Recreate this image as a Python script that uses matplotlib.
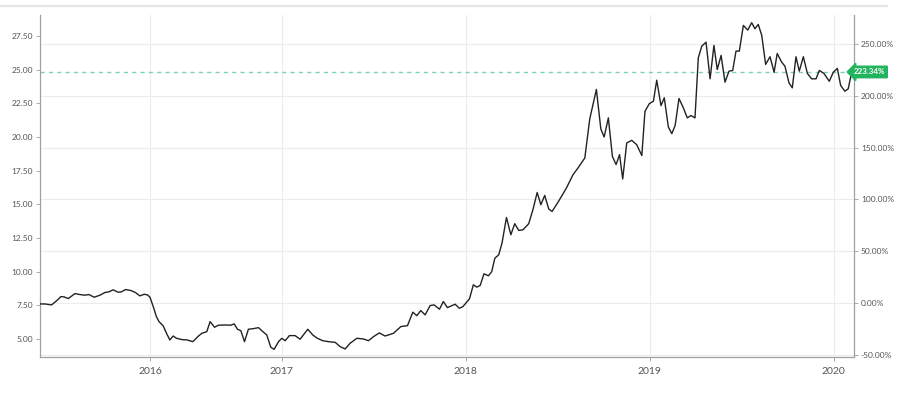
import matplotlib.pyplot as plt
from matplotlib.transforms import blended_transform_factory

# 数据：位置（年份小数）和价格
dates = [2015.685, 2015.712, 2015.748, 2015.775, 2015.799, 2015.817, 2015.839, 2015.875,
         2015.902, 2015.929, 2015.951, 2015.980, 2016.011, 2016.038, 2016.060, 2016.083,
         2016.110, 2016.128, 2016.150, 2016.179, 2016.204, 2016.228, 2016.252, 2016.270,
         2016.283, 2016.301, 2016.318, 2016.332, 2016.355, 2016.373, 2016.391, 2016.409,
         2016.427, 2016.458, 2016.484, 2016.516, 2016.547, 2016.565, 2016.592, 2016.610,
         2016.634, 2016.655, 2016.692, 2016.723, 2016.741, 2016.759, 2016.777, 2016.797,
         2016.818, 2016.846, 2016.873, 2016.897, 2016.918, 2016.940, 2016.958, 2016.982,
         2017.000, 2017.018, 2017.041, 2017.072, 2017.099, 2017.141, 2017.168, 2017.193,
         2017.223, 2017.253, 2017.290, 2017.317, 2017.344, 2017.371, 2017.408, 2017.443,
         2017.471, 2017.498, 2017.530, 2017.561, 2017.607, 2017.647, 2017.683, 2017.712,
         2017.734, 2017.755, 2017.779, 2017.806, 2017.828, 2017.857, 2017.878, 2017.900,
         2017.942, 2017.965, 2017.984, 2018.020, 2018.041, 2018.060, 2018.078, 2018.099,
         2018.123, 2018.141, 2018.158, 2018.179, 2018.197, 2018.221, 2018.245, 2018.266,
         2018.288, 2018.311, 2018.342, 2018.366, 2018.388, 2018.408, 2018.429, 2018.451,
         2018.469, 2018.502, 2018.547, 2018.583, 2018.610, 2018.647, 2018.674, 2018.710,
         2018.734, 2018.752, 2018.775, 2018.797, 2018.817, 2018.836, 2018.853, 2018.875,
         2018.902, 2018.929, 2018.957, 2018.974, 2018.998, 2019.020, 2019.038, 2019.061,
         2019.079, 2019.101, 2019.120, 2019.138, 2019.159, 2019.183, 2019.204, 2019.224,
         2019.246, 2019.264, 2019.283, 2019.306, 2019.328, 2019.349, 2019.367, 2019.388,
         2019.409, 2019.431, 2019.451, 2019.469, 2019.487, 2019.509, 2019.533, 2019.554,
         2019.572, 2019.590, 2019.609, 2019.630, 2019.654, 2019.676, 2019.693, 2019.717,
         2019.735, 2019.757, 2019.775, 2019.795, 2019.813, 2019.835, 2019.857, 2019.880,
         2019.904, 2019.922, 2019.947, 2019.976, 2019.998, 2020.020, 2020.038, 2020.061,
         2020.079, 2020.098]
prices = [7.60, 7.60, 7.53, 7.83, 8.15, 8.12, 8.00, 8.37,
          8.30, 8.25, 8.30, 8.10, 8.25, 8.45, 8.50, 8.65,
          8.47, 8.50, 8.67, 8.60, 8.45, 8.20, 8.32, 8.27,
          8.10, 7.40, 6.66, 6.29, 5.97, 5.42, 4.93, 5.22,
          5.05, 4.95, 4.93, 4.80, 5.22, 5.42, 5.54, 6.29,
          5.87, 6.02, 6.04, 6.02, 6.12, 5.72, 5.62, 4.80,
          5.72, 5.77, 5.84, 5.54, 5.30, 4.38, 4.23, 4.80,
          5.05, 4.87, 5.25, 5.25, 4.98, 5.72, 5.30, 5.05,
          4.87, 4.80, 4.75, 4.43, 4.26, 4.68, 5.05, 5.00,
          4.87, 5.17, 5.45, 5.22, 5.42, 5.92, 5.99, 6.99,
          6.73, 7.11, 6.79, 7.48, 7.53, 7.21, 7.78, 7.33,
          7.58, 7.28, 7.40, 7.98, 9.02, 8.85, 8.97, 9.84,
          9.69, 10.00, 11.00, 11.25, 12.12, 14.02, 12.74, 13.56,
          13.06, 13.11, 13.56, 14.65, 15.88, 14.97, 15.66, 14.65,
          14.47, 15.17, 16.21, 17.20, 17.70, 18.44, 21.35, 23.53,
          20.60, 20.00, 21.42, 18.56, 17.95, 18.69, 16.88, 19.56,
          19.75, 19.43, 18.62, 21.91, 22.48, 22.66, 24.22, 22.33,
          22.91, 20.75, 20.25, 20.85, 22.86, 22.16, 21.42, 21.59,
          21.42, 25.88, 26.75, 27.04, 24.32, 26.80, 25.01, 26.06,
          24.07, 24.89, 24.94, 26.38, 26.38, 28.29, 27.94, 28.49,
          28.04, 28.36, 27.54, 25.39, 25.96, 24.81, 26.20, 25.56,
          25.26, 24.02, 23.65, 25.96, 24.89, 25.96, 24.72, 24.32,
          24.32, 24.94, 24.72, 24.14, 24.81, 25.09, 23.82, 23.40,
          23.58, 24.83]

last_pct = 223.34
base = prices[-1] / (1 + last_pct / 100)

year_pos = [2016.283, 2017.0, 2018.0, 2019.0, 2020.0]
year_labels = ['2016', '2017', '2018', '2019', '2020']
left_ticks = [5.0, 7.5, 10.0, 12.5, 15.0, 17.5, 20.0, 22.5, 25.0, 27.5]
right_ticks = [-50, 0, 50, 100, 150, 200, 250]

plt.rcParams['font.family'] = ['Lato', 'DejaVu Sans']
grey = '#555555'
spine_c = '#a0a0a0'

fig = plt.figure(figsize=(9, 4.01), dpi=100)
# 顶部的浅灰色分隔线
fig.add_artist(plt.Line2D([0, 0.985], [0.985, 0.985], color='#e6e6e6', lw=1.5))

ax = fig.add_axes([0.0444, 0.1097, 0.9044, 0.8529])
ax2 = ax.twinx()
ax.set_zorder(ax2.get_zorder() + 1)
ax.patch.set_visible(False)

ylo, yhi = 3.66, 29.06
ax.set_xlim(2015.685, 2020.11)
ax.set_ylim(ylo, yhi)
ax2.set_ylim((ylo / base - 1) * 100, (yhi / base - 1) * 100)

ax.plot(dates, prices, color='#222222', lw=1.0, zorder=3)
ax.axhline(prices[-1], color='#7fcfbd', lw=1.0, ls=(0, (3, 3)), zorder=2)

ax.set_xticks(year_pos)
ax.set_xticklabels(year_labels)
ax.set_yticks(left_ticks)
ax.set_yticklabels([f'{v:.2f}' for v in left_ticks])
ax2.set_yticks(right_ticks)
ax2.set_yticklabels([f'{v:.2f}%' for v in right_ticks])

ax.grid(axis='x', color='#ececec', lw=0.8)
ax.grid(axis='y', visible=False)
ax2.grid(axis='y', color='#ececec', lw=0.8)

for a in (ax, ax2):
    a.spines['top'].set_visible(False)
    for s in ('left', 'right', 'bottom'):
        a.spines[s].set_color(spine_c)
        a.spines[s].set_linewidth(0.9)
ax.spines['right'].set_visible(False)
ax2.spines['left'].set_visible(False)
ax2.spines['bottom'].set_visible(False)

ax.tick_params(axis='y', labelsize=6, colors=grey, length=3, width=0.6, pad=2)
ax.tick_params(axis='x', labelsize=7.5, colors=grey, length=3, width=0.6, pad=4)
ax2.tick_params(axis='y', labelsize=6, colors=grey, length=3, width=0.6, pad=2)
for a in (ax, ax2):
    a.tick_params(axis='both', color=spine_c)

# 右侧当前值标签
trans = blended_transform_factory(ax2.transAxes, ax.transData)
ax.text(0.9995, prices[-1], f'{last_pct:.2f}%', transform=trans, ha='left', va='center',
        fontsize=5.8, color='white', fontweight='bold', clip_on=False, zorder=10,
        bbox=dict(boxstyle='larrow,pad=0.28', fc='#22b35e', ec='#22b35e'))

plt.savefig('out.png', dpi=100)
